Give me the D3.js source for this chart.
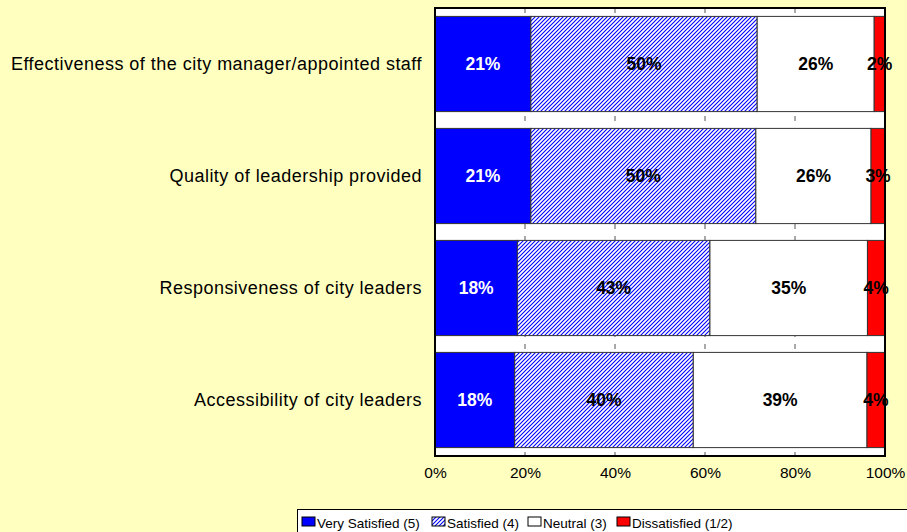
<!DOCTYPE html>
<html>
<head>
<meta charset="utf-8">
<script src="https://cdn.jsdelivr.net/npm/d3@7"></script>
<style>
  body { margin: 0; background: #FFFFBF; }
  text { font-family: "Liberation Sans", Arial, sans-serif; }
</style>
</head>
<body>
<div id="chart"></div>
<script>
// categories, top to bottom
var categories = [
  'Effectiveness of the city manager/appointed staff',
  'Quality of leadership provided',
  'Responsiveness of city leaders',
  'Accessibility of city leaders'
];
var seriesNames = ['Very Satisfied (5)', 'Satisfied (4)', 'Neutral (3)', 'Dissatisfied (1/2)'];
var verySatisfied = [21.3, 21.3, 18.3, 17.7];
var satisfied     = [50.3, 50.0, 42.8, 39.7];
var neutral       = [26.0, 25.6, 35.0, 38.6];
var dissatisfied  = [2.4, 3.1, 3.9, 4.0];
var tickValues = [0, 20, 40, 60, 80, 100];

var width = 907, height = 532;
var margin = {left: 435, right: 22, top: 8, bottom: 76};

var svg = d3.select('#chart').append('svg')
  .attr('width', width)
  .attr('height', height);

svg.append('rect')
  .attr('width', width).attr('height', height)
  .attr('fill', '#FFFFBF');

// hatch for "Satisfied"
var defs = svg.append('defs');
var pat = defs.append('pattern')
  .attr('id', 'hatch')
  .attr('patternUnits', 'userSpaceOnUse')
  .attr('width', 4).attr('height', 4);
pat.append('rect').attr('width', 4).attr('height', 4).attr('fill', '#fff');
pat.append('path')
  .attr('d', 'M-1,1 l2,-2 M0,4 l4,-4 M3,5 l2,-2')
  .attr('stroke', '#0000FF')
  .attr('stroke-width', 1.1);

var fills = ['#0000FF', 'url(#hatch)', '#FFFFFF', '#FF0000'];
var labelColors = ['#FFFFFF', '#000', '#000', '#000'];

var x = d3.scaleLinear().domain([0, 100]).range([margin.left, width - margin.right]);
var y = d3.scaleBand().domain(categories)
  .range([margin.top, height - margin.bottom])
  .paddingInner(0.15).paddingOuter(0.075);

// build stacked table
var table = categories.map(function(c, i) {
  return {cat: c, 'Very Satisfied (5)': verySatisfied[i], 'Satisfied (4)': satisfied[i],
          'Neutral (3)': neutral[i], 'Dissatisfied (1/2)': dissatisfied[i]};
});
var stacked = d3.stack().keys(seriesNames)(table);

// plot area
svg.append('rect')
  .attr('x', x(0)).attr('y', margin.top)
  .attr('width', x(100) - x(0)).attr('height', height - margin.bottom - margin.top)
  .attr('fill', '#fff');

// gridlines (dashed, mostly hidden by bars)
svg.append('g').selectAll('line')
  .data(tickValues.slice(1, -1))
  .join('line')
  .attr('x1', function(d) { return x(d); })
  .attr('x2', function(d) { return x(d); })
  .attr('y1', margin.top)
  .attr('y2', height - margin.bottom)
  .attr('stroke', '#555')
  .attr('stroke-width', 1)
  .attr('stroke-dasharray', '5,7');

var groups = svg.append('g').selectAll('g')
  .data(stacked)
  .join('g')
  .attr('fill', function(d, i) { return fills[i]; });

groups.selectAll('rect')
  .data(function(d) { return d; })
  .join('rect')
  .attr('x', function(d) { return x(d[0]); })
  .attr('y', function(d) { return y(d.data.cat); })
  .attr('width', function(d) { return x(d[1]) - x(d[0]); })
  .attr('height', y.bandwidth())
  .attr('stroke', '#333')
  .attr('stroke-width', 1);

// value labels
stacked.forEach(function(s, i) {
  svg.append('g').selectAll('text')
    .data(s)
    .join('text')
    .attr('x', function(d) { return (x(d[0]) + x(d[1])) / 2; })
    .attr('y', function(d) { return y(d.data.cat) + y.bandwidth() / 2; })
    .attr('dy', '0.36em')
    .attr('text-anchor', 'middle')
    .attr('font-size', 17.5)
    .attr('font-weight', 'bold')
    .attr('fill', labelColors[i])
    .text(function(d) { return Math.round(d[1] - d[0]) + '%'; });
});

// border
svg.append('rect')
  .attr('x', x(0)).attr('y', margin.top)
  .attr('width', x(100) - x(0)).attr('height', height - margin.bottom - margin.top)
  .attr('fill', 'none')
  .attr('stroke', '#000')
  .attr('stroke-width', 2);

// x axis labels
var xAxis = svg.append('g')
  .attr('transform', 'translate(0,' + (height - margin.bottom) + ')')
  .call(d3.axisBottom(x).tickValues(tickValues).tickSize(0).tickPadding(11)
    .tickFormat(function(d) { return d + '%'; }));
xAxis.select('.domain').remove();
xAxis.selectAll('text')
  .attr('font-size', 15.5)
  .attr('font-family', '"Liberation Sans", Arial, sans-serif')
  .attr('fill', '#000');

// category labels
var yAxis = svg.append('g')
  .attr('transform', 'translate(' + (x(0) - 5) + ',0)')
  .call(d3.axisLeft(y).tickSize(0).tickPadding(8));
yAxis.select('.domain').remove();
yAxis.selectAll('text')
  .attr('font-size', 18)
  .attr('letter-spacing', 0.48)
  .attr('font-family', '"Liberation Sans", Arial, sans-serif')
  .attr('fill', '#000');

// legend
var legend = svg.append('g');
legend.append('rect')
  .attr('x', 297.5).attr('y', 509.5)
  .attr('width', 700).attr('height', 40)
  .attr('fill', '#fff')
  .attr('stroke', '#000')
  .attr('stroke-width', 1);
var legendX = [302, 432, 528, 617];
var items = legend.selectAll('g.item')
  .data(seriesNames)
  .join('g')
  .attr('class', 'item')
  .attr('transform', function(d, i) { return 'translate(' + legendX[i] + ',517)'; });
items.append('rect')
  .attr('width', 13).attr('height', 9)
  .attr('fill', function(d, i) { return fills[i]; })
  .attr('stroke', '#000')
  .attr('stroke-width', 1);
items.append('text')
  .attr('x', 15).attr('y', 10.5)
  .attr('font-size', 13.5)
  .attr('fill', '#000')
  .text(function(d) { return d; });
</script>
</body>
</html>
